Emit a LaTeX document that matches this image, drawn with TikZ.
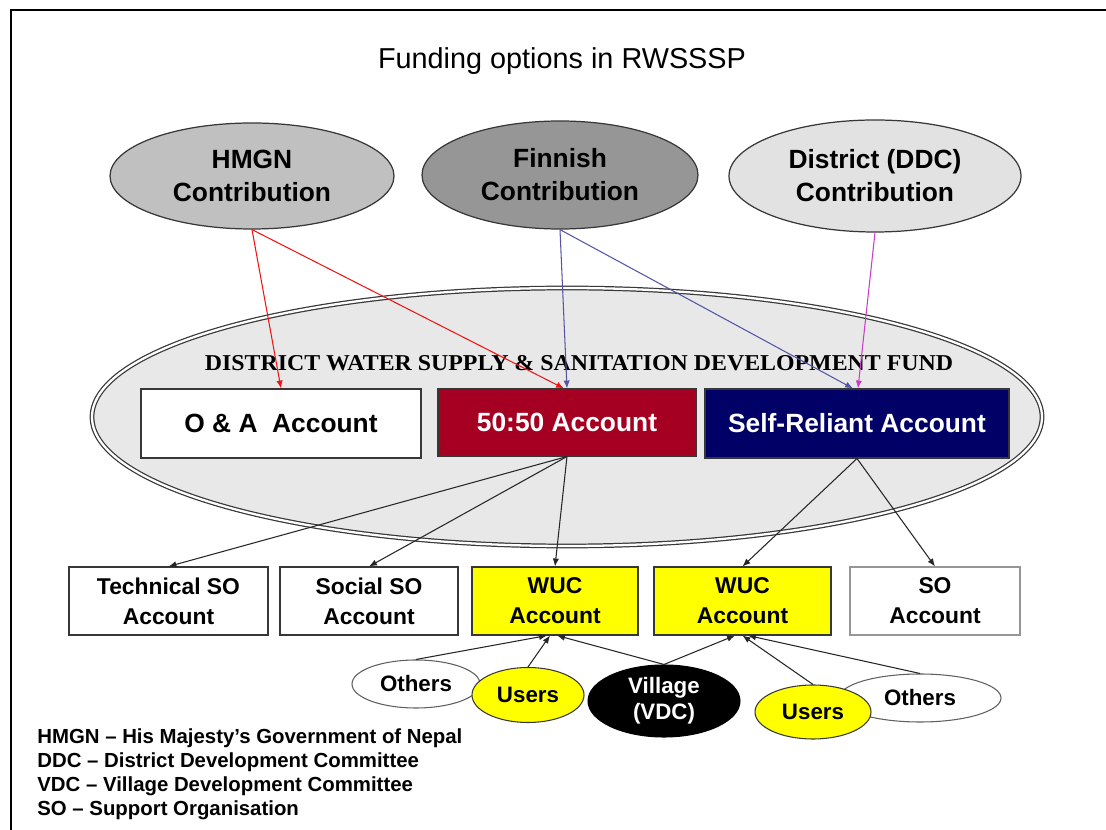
\documentclass[tikz,border=0pt]{standalone}
\usepackage{fontspec}
\setmainfont{Liberation Sans}
\newfontfamily\fundfont[FakeStretch=1.053]{Liberation Serif}
\usetikzlibrary{shapes.geometric,arrows.meta}

\definecolor{hmgnfill}{RGB}{192,192,192}
\definecolor{finnfill}{RGB}{150,150,150}
\definecolor{ddcfill}{RGB}{226,226,226}
\definecolor{fundfill}{RGB}{232,232,232}
\definecolor{edge}{RGB}{55,55,55}
\definecolor{fiftyred}{RGB}{165,0,33}
\definecolor{navy}{RGB}{0,0,102}
\definecolor{wucyellow}{RGB}{255,255,0}
\definecolor{redline}{RGB}{240,20,20}
\definecolor{blueline}{RGB}{85,85,165}
\definecolor{magline}{RGB}{200,60,200}
\definecolor{soedge}{RGB}{150,150,150}

\begin{document}
\begin{tikzpicture}[x=0.02cm,y=-0.02cm,
  ell/.style 2 args={ellipse, minimum width=#1*0.02cm, minimum height=#2*0.02cm,
    inner sep=0pt, align=center},
  box/.style 2 args={rectangle, minimum width=#1*0.02cm, minimum height=#2*0.02cm,
    inner sep=0pt, align=center},
  contrib/.style={draw=edge, line width=0.7pt,
    font=\fontsize{15}{18.7}\selectfont\bfseries},
  account/.style={draw=edge, line width=0.6pt,
    font=\fontsize{15}{18}\selectfont\bfseries},
  subacc/.style={draw=edge, line width=0.6pt,
    font=\fontsize{13}{17}\selectfont\bfseries},
  source/.style={line width=0.6pt, font=\fontsize{12.7}{14.7}\selectfont\bfseries},
  legend/.style={anchor=base west, inner sep=0pt,
    font=\fontsize{11.6}{13.6}\selectfont\bfseries},
  arr/.style={-{Latex[length=4.5pt,width=3.6pt]}, line width=0.6pt},
]
\useasboundingbox (0,0) rectangle (1106,830);
\fill[white] (0,0) rectangle (1106,830);

% slide frame
\draw[line width=1.6pt, line cap=rect] (11,830) -- (11,10) -- (1106,10);

% heading
\node[anchor=base, inner sep=0pt, font=\fontsize{16.4}{19}\selectfont]
  (title) at (562,69) {Funding options in RWSSSP};

% contributors
\node[ell={284}{106}, contrib, fill=hmgnfill] (hmgn) at (252,176)
  {HMGN\\Contribution};
\node[ell={276}{108}, contrib, fill=finnfill] (finn) at (560,175)
  {Finnish\\Contribution};
\node[ell={292}{112}, contrib, fill=ddcfill] (ddc) at (875,176)
  {District (DDC)\\Contribution};

% development fund
\node[ell={950}{258}, draw=edge, line width=0.7pt, double=white,
  double distance=1.3pt, fill=fundfill] (fund) at (567,417) {};
\node[anchor=base, inner sep=0pt, font=\fundfont\fontsize{12.9}{15}\selectfont\bfseries]
  (fundtitle) at (579,371)
  {DISTRICT WATER SUPPLY \& SANITATION DEVELOPMENT FUND};

% fund accounts
\node[box={280}{69}, account, fill=white] (oa) at (281,423.5)
  {O \& A\ \ Account};
\node[box={258}{67}, account, fill=fiftyred, text=white] (fifty) at (567,422.5)
  {50:50 Account};
\node[box={304}{69}, account, fill=navy, text=white] (self) at (857,423.5)
  {Self-Reliant Account};

% receiving accounts
\node[box={199}{68}, subacc, fill=white] (tech) at (168.5,601)
  {Technical SO\\Account};
\node[box={178}{68}, subacc, fill=white] (social) at (369,601)
  {Social SO\\Account};
\node[box={166}{68}, subacc, fill=wucyellow] (wuc1) at (555,601)
  {WUC\\Account};
\node[box={177}{68}, subacc, fill=wucyellow] (wuc2) at (742.5,601)
  {WUC\\Account};
\node[box={170}{68}, subacc, draw=soedge, fill=white] (so) at (935,601)
  {SO\\Account};

% local sources
\node[ell={128}{48}, source, draw=edge!80, fill=white] (others1) at (416,684)
  {Others};
\node[ell={112}{55}, source, draw=edge, fill=wucyellow] (users1) at (528,695)
  {Users};
\node[ell={152}{72}, source, draw=black, fill=black, text=white] (village)
  at (664,701) {Village\\(VDC)};
\node[ell={162}{48}, source, draw=edge!80, fill=white] (others2) at (920,698)
  {Others};
\node[ell={116}{54}, source, draw=edge, fill=wucyellow] (users2) at (813,712)
  {Users};

% contribution flows
\draw[arr, redline] (hmgn.south) -- (oa.north);
\draw[arr, redline] (hmgn.south) -- ([xshift=-0.06cm]fifty.north);
\draw[arr, blueline] (finn.south) -- (fifty.north);
\draw[arr, blueline] (finn.south) -- ([xshift=-0.08cm]self.north);
\draw[arr, magline] (ddc.south) -- ([xshift=0.02cm]self.north);

% disbursements
\draw[arr, black!85] (fifty.south) -- (tech.north);
\draw[arr, black!85] (fifty.south) -- (social.north);
\draw[arr, black!85] (fifty.south) -- (wuc1.north);
\draw[arr, black!85] (self.south) -- (wuc2.north);
\draw[arr, black!85] (self.south) -- (so.north);

% local contributions
\draw[arr, black!85] (others1.north) -- ([xshift=-0.16cm]wuc1.south);
\draw[arr, black!85] (users1.north) -- ([xshift=-0.10cm]wuc1.south);
\draw[arr, black!85] (village.north) -- ([xshift=0.04cm]wuc1.south);
\draw[arr, black!85] (village.north) -- ([xshift=-0.15cm]wuc2.south);
\draw[arr, black!85] (users2.north) -- (wuc2.south);
\draw[arr, black!85] (others2.north) -- ([xshift=0.11cm]wuc2.south);

% abbreviations
\node[legend] (l1) at (37,744) {HMGN – His Majesty's Government of Nepal};
\node[legend] (l2) at (37,768) {DDC – District Development Committee};
\node[legend] (l3) at (37,792) {VDC – Village Development Committee};
\node[legend] (l4) at (37,816) {SO – Support Organisation};
\end{tikzpicture}
\end{document}
